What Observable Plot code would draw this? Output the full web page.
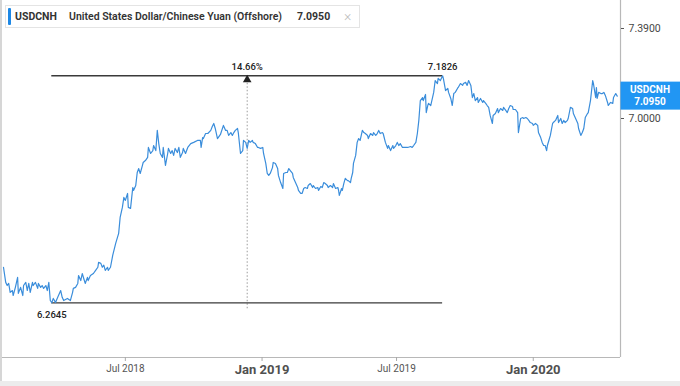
<!DOCTYPE html>
<html><head><meta charset="utf-8">
<script src="https://cdn.jsdelivr.net/npm/d3@7"></script>
<script src="https://cdn.jsdelivr.net/npm/@observablehq/plot@0.6"></script>
<style>
html,body{margin:0;padding:0;background:#fff;}
body{width:680px;height:386px;overflow:hidden;position:relative;font-family:Roboto,"Liberation Sans",sans-serif;}
#chart{position:absolute;left:0;top:0;}
#legend{position:absolute;left:5px;top:5px;width:355px;height:23px;border:1px solid #e4e4e4;background:#fff;box-sizing:border-box;font-size:10.5px;color:#333;font-weight:600;}
#legend .bar{position:absolute;left:2px;top:2px;width:3px;height:17px;background:#1e88e5;border-radius:1px;}
#legend span{position:absolute;top:4px;white-space:nowrap;}
#leftedge{position:absolute;left:0;top:0;width:2px;height:386px;background:#d6d6d6;}
#bottomband{position:absolute;left:0;top:381px;width:680px;height:5px;background:#ececec;}
</style></head>
<body>
<div id="chart"></div>
<div id="leftedge"></div>
<div id="bottomband"></div>
<div id="legend"><div class="bar"></div></div>
<script>
// ---- data ----
const symbol = "USDCNH";
const symbolName = "United States Dollar/Chinese Yuan (Offshore)";
const lastValue = 7.0950;
const startDate = "2018-01-18";
const yTicks = [7.0, 7.39];
const julTicks = ["2018-07-01", "2019-07-01"];
const janTicks = ["2019-01-01", "2020-01-01"];
// [days after startDate, rate]
const series = [
[0,6.400],[3,6.342],[5,6.330],[7,6.338],[9,6.304],[12,6.311],[13,6.292],[16,6.323],[19,6.361],[20,6.300],
[23,6.323],[26,6.292],[27,6.330],[30,6.342],[32,6.311],[34,6.338],[36,6.304],[39,6.342],[40,6.330],[43,6.342],
[46,6.319],[47,6.338],[50,6.323],[52,6.330],[54,6.319],[57,6.330],[59,6.311],[61,6.342],[63,6.273],[65,6.2645],
[67,6.281],[70,6.266],[73,6.285],[77,6.311],[79,6.285],[81,6.273],[86,6.281],[90,6.273],[93,6.304],[94,6.319],
[97,6.323],[100,6.338],[101,6.368],[104,6.349],[106,6.376],[108,6.357],[110,6.338],[113,6.361],[114,6.349],[117,6.368],
[121,6.376],[124,6.388],[127,6.400],[128,6.419],[131,6.415],[133,6.400],[135,6.408],[137,6.388],[140,6.400],[141,6.388],
[144,6.400],[147,6.446],[151,6.493],[155,6.532],[157,6.595],[160,6.635],[162,6.675],[164,6.663],[167,6.691],[168,6.635],
[171,6.631],[174,6.715],[175,6.703],[178,6.723],[180,6.776],[182,6.792],[184,6.772],[187,6.805],[188,6.817],[191,6.825],
[194,6.838],[195,6.879],[198,6.854],[201,6.866],[202,6.887],[205,6.866],[207,6.950],[209,6.895],[211,6.854],[214,6.838],
[215,6.879],[218,6.805],[221,6.854],[222,6.875],[225,6.854],[227,6.866],[229,6.846],[231,6.875],[234,6.858],[236,6.879],
[238,6.838],[241,6.858],[242,6.875],[245,6.854],[248,6.879],[252,6.895],[256,6.900],[261,6.908],[265,6.908],[266,6.879],
[268,6.920],[269,6.916],[272,6.937],[275,6.937],[279,6.950],[281,6.966],[283,6.979],[285,6.958],[288,6.916],[289,6.920],
[292,6.933],[296,6.971],[299,6.950],[301,6.950],[303,6.929],[306,6.941],[308,6.929],[310,6.941],[312,6.950],[315,6.958],
[316,6.941],[319,6.854],[322,6.866],[323,6.908],[326,6.900],[328,6.875],[330,6.908],[332,6.900],[335,6.908],[336,6.900],
[339,6.895],[342,6.879],[343,6.879],[346,6.875],[349,6.879],[350,6.854],[353,6.813],[355,6.772],[357,6.764],[359,6.772],
[362,6.796],[363,6.817],[366,6.813],[369,6.792],[370,6.764],[373,6.735],[376,6.711],[377,6.772],[380,6.776],[382,6.776],
[384,6.792],[386,6.784],[389,6.772],[390,6.756],[393,6.735],[396,6.715],[397,6.703],[400,6.691],[402,6.691],[404,6.711],
[406,6.715],[409,6.711],[410,6.723],[413,6.731],[416,6.715],[417,6.723],[420,6.711],[423,6.715],[424,6.703],[427,6.719],
[429,6.715],[431,6.735],[433,6.731],[436,6.723],[437,6.715],[440,6.723],[443,6.715],[444,6.731],[447,6.711],[450,6.715],
[451,6.703],[452,6.683],[455,6.711],[456,6.703],[458,6.731],[460,6.752],[463,6.743],[464,6.743],[467,6.735],[468,6.752],
[470,6.776],[471,6.813],[474,6.846],[476,6.900],[478,6.916],[480,6.908],[483,6.950],[485,6.941],[487,6.937],[490,6.929],
[491,6.916],[494,6.937],[497,6.929],[498,6.941],[501,6.929],[503,6.937],[505,6.950],[507,6.937],[510,6.941],[511,6.937],
[514,6.900],[517,6.875],[518,6.887],[521,6.866],[524,6.887],[525,6.875],[528,6.887],[530,6.900],[532,6.887],[534,6.895],
[537,6.879],[538,6.879],[544,6.879],[548,6.883],[550,6.879],[552,6.887],[555,6.900],[557,6.937],[559,6.992],[561,7.076],
[564,7.089],[565,7.076],[568,7.102],[569,7.025],[571,7.055],[572,7.064],[575,7.055],[579,7.111],[581,7.162],[584,7.149],
[585,7.171],[588,7.162],[591,7.1826],[592,7.171],[595,7.119],[598,7.128],[599,7.111],[602,7.085],[604,7.055],[606,7.106],
[608,7.111],[611,7.128],[612,7.132],[615,7.149],[618,7.141],[619,7.149],[622,7.154],[624,7.141],[626,7.162],[629,7.141],
[631,7.089],[633,7.106],[635,7.076],[638,7.089],[639,7.068],[642,7.085],[645,7.068],[646,7.076],[649,7.064],[651,7.055],
[653,7.047],[655,7.013],[658,6.979],[659,7.013],[662,7.021],[665,7.042],[666,7.025],[669,7.042],[672,7.034],[673,7.047],
[676,7.034],[678,7.025],[680,7.042],[682,7.055],[685,7.051],[686,7.038],[689,7.038],[692,7.025],[693,6.941],[696,7.000],
[699,7.004],[700,7.000],[703,7.004],[705,7.000],[707,6.992],[709,6.983],[712,6.979],[713,6.971],[716,6.979],[719,6.971],
[720,6.941],[723,6.920],[725,6.900],[727,6.887],[729,6.887],[731,6.866],[732,6.887],[734,6.908],[736,6.929],[739,6.979],
[740,6.983],[743,6.992],[746,7.013],[747,6.983],[750,7.000],[752,6.979],[754,6.992],[756,6.983],[759,6.992],[760,7.000],
[763,7.047],[766,7.042],[767,7.021],[770,7.000],[773,6.979],[774,6.958],[777,6.929],[779,6.941],[781,6.958],[783,7.004],
[786,7.021],[787,7.025],[790,7.076],[793,7.162],[794,7.149],[797,7.089],[798,7.132],[799,7.085],[801,7.111],[804,7.106],
[806,7.106],[808,7.111],[810,7.098],[813,7.068],[814,7.055],[817,7.068],[820,7.064],[821,7.089],[824,7.106],[826,7.095]
];

// ---- build ----
const t0 = new Date(startDate);
const data = series.map(([d, v]) => ({date: d3.utcDay.offset(t0, d), value: v}));
const low = d3.least(data, d => d.value);
const high = d3.greatest(data, d => d.value);
const mid = new Date((+low.date + +high.date) / 2);
const pct = ((high.value / low.value - 1) * 100).toFixed(2) + "%";
const xDomain = [new Date("2018-01-16T16:00Z"), new Date("2020-04-27T10:00Z")];
const yDomain = [6.0614, 7.5157];
const font = "Roboto, 'Liberation Sans', sans-serif";

const chart = Plot.plot({
  width: 680, height: 386,
  marginLeft: 2, marginRight: 60, marginTop: 0, marginBottom: 29,
  style: {fontFamily: font, background: "transparent", overflow: "visible"},
  x: {type: "utc", domain: xDomain, axis: null},
  y: {type: "log", domain: yDomain, axis: null},
  marks: [
    Plot.ruleY([yDomain[0]], {stroke: "#b8b8b8", strokeWidth: 1.2}),
    Plot.ruleX([xDomain[1]], {stroke: "#b8b8b8", strokeWidth: 1.2}),
    Plot.axisY({anchor: "right", label: null, ticks: yTicks, tickFormat: d => d.toFixed(4), tickSize: 3, tickPadding: 5,
      fontSize: 10.5, fill: "#474747", stroke: "#555"}),
    Plot.axisX({label: null, ticks: julTicks.map(s => new Date(s)), tickFormat: d3.utcFormat("%b %Y"), tickSize: 4, tickPadding: 3,
      fontSize: 10, fill: "#555", stroke: "#aaa"}),
    Plot.axisX({label: null, ticks: janTicks.map(s => new Date(s)), tickFormat: d3.utcFormat("%b %Y"), tickSize: 4, tickPadding: 3,
      fontSize: 13, fontWeight: "bold", fill: "#505050", stroke: "#aaa"}),
    Plot.ruleX([mid], {y1: low.value, y2: high.value, insetTop: 6, stroke: "#9a9a9a", strokeDasharray: "1.5,2"}),
    Plot.ruleY([low.value, high.value], {x1: low.date, x2: high.date, stroke: "#3a3a3a", strokeWidth: 1.3}),
    Plot.line(data, {x: "date", y: "value", stroke: "#3a8ddb", strokeWidth: 1.2}),
    Plot.dot([{date: mid, value: high.value}], {x: "date", y: "value", symbol: "triangle", r: 3.2, fill: "#222", stroke: "none", dy: 4}),
    Plot.text([pct], {x: mid, y: high.value, text: d => d, dy: -9, fontSize: 9.5, fill: "#222", fontWeight: 500}),
    Plot.text([high], {x: "date", y: "value", text: d => d.value.toFixed(4), dy: -9, fontSize: 9.5, fill: "#222", fontWeight: 500}),
    Plot.text([low], {x: "date", y: "value", text: d => d.value.toFixed(4), dy: 12, fontSize: 9.5, fill: "#222", fontWeight: 500})
  ]
});
document.getElementById("chart").appendChild(chart);

// last-price badge on the right axis, positioned with Plot's y scale
const yS = chart.scale("y");
const yy = yS.apply(lastValue);
const g = d3.select(chart).append("g").attr("font-family", font);
g.append("rect").attr("x", 620.5).attr("y", yy - 14).attr("width", 60).attr("height", 28).attr("fill", "#2196f3");
g.append("text").attr("x", 650).attr("y", yy - 2.5).attr("text-anchor", "middle").attr("fill", "#fff")
  .attr("font-size", 10).attr("font-weight", "bold").text(symbol);
g.append("text").attr("x", 650).attr("y", yy + 9.5).attr("text-anchor", "middle").attr("fill", "#fff")
  .attr("font-size", 10).attr("font-weight", "bold").text(lastValue.toFixed(4));

// header legend
const lg = d3.select("#legend");
lg.append("span").style("left", "9px").style("font-weight", "700").text(symbol);
lg.append("span").style("left", "63px").text(symbolName);
lg.append("span").style("left", "291px").style("font-weight", "700").text(lastValue.toFixed(4));
lg.append("span").style("left", "338px").style("top", "2px").style("font-size", "14px").style("font-weight", "300").style("color", "#bbb").text("×");
</script>
</body></html>
